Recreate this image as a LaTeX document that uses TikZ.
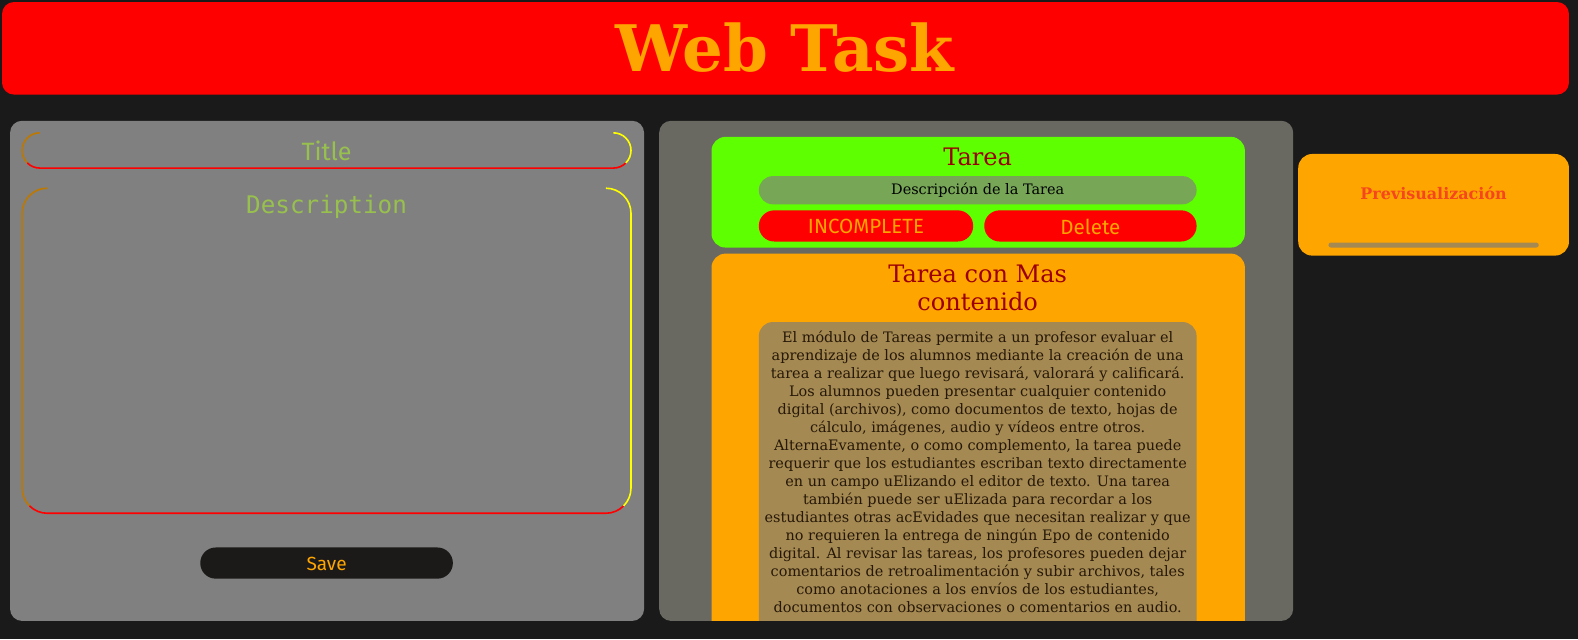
\documentclass[tikz,border=0pt]{standalone}
\usepackage{fontspec}
\setmainfont{DejaVu Serif}
\newfontfamily\uifont{Fira Sans}
\newfontfamily\codefont{DejaVu Sans Mono}
\usetikzlibrary{calc}

\definecolor{bgdark}{RGB}{26,26,26}
\definecolor{hdrred}{RGB}{255,0,0}
\definecolor{webor}{RGB}{255,165,0}
\definecolor{panelgray}{RGB}{128,128,128}
\definecolor{midgray}{RGB}{105,105,97}
\definecolor{taskgreen}{RGB}{94,255,0}
\definecolor{descgreen}{RGB}{118,166,86}
\definecolor{taskred}{RGB}{155,0,0}
\definecolor{txtbox}{RGB}{165,137,82}
\definecolor{bodytxt}{RGB}{38,24,8}
\definecolor{fldgreen}{RGB}{152,192,78}
\definecolor{brdorange}{RGB}{190,120,0}
\definecolor{brdyellow}{RGB}{255,255,0}
\definecolor{savebg}{RGB}{28,26,25}
\definecolor{prevred}{RGB}{245,70,30}

\tikzset{
  uitext/.style={font=\uifont\fontsize{20.5}{24}\selectfont, text=webor},
  brd/.style={line width=1.6bp}
}

\begin{document}
\begin{tikzpicture}[x=1bp, y=-1bp, scale=1.00638, every node/.append style={transform shape}]
			%%%%% START %%%%%
			
			\fill[bgdark] (0, 0) rectangle (1568, 635);
			\useasboundingbox (0, 0) rectangle (1568, 635);
			
			% header
			\fill[hdrred, rounded corners=12bp] (2, 2) rectangle (1559, 94);
			\node[text=webor, font=\fontsize{64}{70}\selectfont\bfseries] (webtitle) at (780, 47) {Web Task};
			
			% left panel
			\fill[panelgray, rounded corners=12bp] (10, 120) rectangle (640, 617);
			
			\draw[brd, brdorange] (39.5, 132) arc (270:135:17.5);
			\draw[brd, hdrred] ($(39.5, 149.5)+(135:17.5)$) arc (135:90:17.5) -- (609.5, 167) arc (90:45:17.5);
			\draw[brd, brdyellow] ($(609.5, 149.5)+(45:17.5)$) arc (45:-90:17.5);
			\node[text=fldgreen, font=\uifont\fontsize{25}{29}\selectfont] (titlefld) at (324.5, 150) {Title};
			
			\draw[brd, brdorange] (47, 187) arc (270:180:25) -- (22, 485) arc (180:135:25);
			\draw[brd, hdrred] ($(47, 485)+(135:25)$) arc (135:90:25) -- (602, 510) arc (90:45:25);
			\draw[brd, brdyellow] ($(602, 485)+(45:25)$) arc (45:0:25) -- (627, 212) arc (0:-90:25);
			\node[text=fldgreen, font=\codefont\fontsize{24.2}{28}\selectfont] (descfld) at (324.5, 205) {Description};
			
			\fill[savebg, rounded corners=15.5bp] (199, 544) rectangle (450, 575);
			\node[uitext, font=\uifont\fontsize{19}{23}\selectfont] (savebtn) at (324.5, 560) {Save};
			
			% middle panel
			\fill[midgray, rounded corners=12bp] (655, 120) rectangle (1285, 617);
			
			\fill[taskgreen, rounded corners=14bp] (707, 136) rectangle (1237, 246);
			\node[text=taskred, font=\fontsize{24}{28}\selectfont] (tasktitle) at (971.5, 155.5) {Tarea};
			\fill[descgreen, rounded corners=14bp] (754, 175) rectangle (1189, 203);
			\node[text=black, font=\fontsize{14.4}{18}\selectfont] (taskdesc) at (971.5, 189) {Descripción de la Tarea};
			\fill[hdrred, rounded corners=15.5bp] (754, 209) rectangle (967, 240);
			\node[uitext] (incbtn) at (860.5, 225) {INCOMPLETE};
			\fill[hdrred, rounded corners=15.5bp] (978, 209) rectangle (1189, 240);
			\node[uitext] (delbtn) at (1083.5, 225) {Delete};
			
			\begin{scope}
			\clip[rounded corners=12bp] (655, 120) rectangle (1285, 617);
			\fill[webor, rounded corners=14bp] (707, 252) rectangle (1237, 700);
			\node[text=taskred, align=center, font=\fontsize{24}{28}\selectfont] (bigtitle) at (971.5, 286.5) {Tarea con Mas\\contenido};
			\fill[txtbox, rounded corners=14bp] (754, 320) rectangle (1189, 700);
			\node[text=bodytxt, align=center, anchor=north, inner sep=0pt, font=\fontsize{14.4}{17.93}\selectfont] (bigbody) at (971.5, 329) {El módulo de Tareas permite a un profesor evaluar el\\
aprendizaje de los alumnos mediante la creación de una\\
tarea a realizar que luego revisará, valorará y calificará.\\
Los alumnos pueden presentar cualquier contenido\\
digital (archivos), como documentos de texto, hojas de\\
cálculo, imágenes, audio y vídeos entre otros.\\
AlternaEvamente, o como complemento, la tarea puede\\
requerir que los estudiantes escriban texto directamente\\
en un campo uElizando el editor de texto. Una tarea\\
también puede ser uElizada para recordar a los\\
estudiantes otras acEvidades que necesitan realizar y que\\
no requieren la entrega de ningún Epo de contenido\\
digital. Al revisar las tareas, los profesores pueden dejar\\
comentarios de retroalimentación y subir archivos, tales\\
como anotaciones a los envíos de los estudiantes,\\
documentos con observaciones o comentarios en audio.};
			\end{scope}
			
			% right card
			\fill[webor, rounded corners=14bp] (1290, 153) rectangle (1559, 254);
			\node[text=prevred, font=\fontsize{15.9}{19}\selectfont\bfseries] (prevtitle) at (1424.5, 192) {Previsualización};
			\fill[txtbox, rounded corners=2.5bp] (1320, 241) rectangle (1529, 246);
			
			%%%%% END %%%%%
\end{tikzpicture}
\end{document}
